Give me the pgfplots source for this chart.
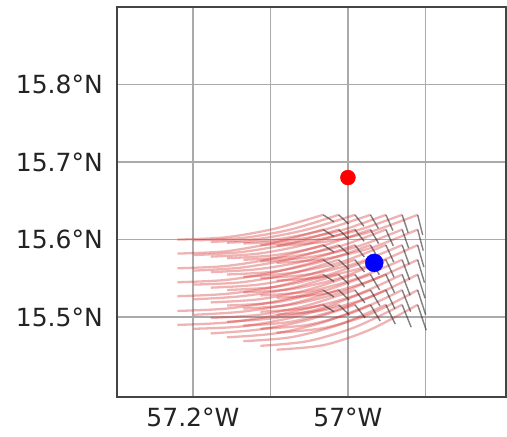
\documentclass[border=0pt]{standalone}
\usepackage{fontspec}
\setmainfont{DejaVu Sans}
\usepackage{pgfplots}
\pgfplotsset{compat=1.18}

\definecolor{trajred}{RGB}{214,45,45}
\definecolor{segdark}{RGB}{45,45,45}
\definecolor{gridgray}{RGB}{170,170,170}
\definecolor{labelgray}{RGB}{35,35,35}

\begin{document}
\begin{tikzpicture}[x=1pt,y=1pt]
\useasboundingbox (-117,-40) rectangle (390,397);
\begin{axis}[
  at={(0,0)}, anchor=south west,
  scale only axis, width=389pt, height=390pt,
  xmin=-57.298, xmax=-56.796,
  ymin=15.397, ymax=15.9,
  xtick={-57.2,-57.1,-57.0,-56.9},
  xticklabels={57.2°W,,57°W,},
  ytick={15.5,15.6,15.7,15.8},
  yticklabels={15.5°N,15.6°N,15.7°N,15.8°N},
  major tick length=0pt,
  grid=major,
  major grid style={gridgray, line width=1.5pt},
  axis line style={labelgray!85, line width=1.8pt},
  tick label style={font=\fontsize{25}{30}\selectfont, text=labelgray},
  xticklabel style={anchor=north, inner sep=0pt, yshift=-11pt},
  yticklabel style={anchor=east, inner sep=0pt, xshift=-14pt},
  clip=true,
  traj/.style={trajred, opacity=0.36, line width=2.3pt, smooth, no markers},
]

% backward trajectories, row 0 (northernmost)
\addplot[traj] coordinates {(-57.032,15.632) (-57.095,15.614) (-57.157,15.603) (-57.220,15.600)};
\addplot[traj] coordinates {(-57.012,15.632) (-57.074,15.613) (-57.137,15.602) (-57.199,15.599)};
\addplot[traj] coordinates {(-56.991,15.632) (-57.053,15.613) (-57.115,15.601) (-57.177,15.597)};
\addplot[traj] coordinates {(-56.971,15.632) (-57.033,15.612) (-57.094,15.600) (-57.156,15.596)};
\addplot[traj] coordinates {(-56.951,15.632) (-57.012,15.611) (-57.074,15.599) (-57.135,15.595)};
\addplot[traj] coordinates {(-56.930,15.632) (-56.991,15.611) (-57.052,15.598) (-57.113,15.593)};
\addplot[traj] coordinates {(-56.910,15.632) (-56.971,15.610) (-57.031,15.597) (-57.092,15.592)};
% row 1
\addplot[traj] coordinates {(-57.032,15.613) (-57.095,15.596) (-57.157,15.585) (-57.220,15.582)};
\addplot[traj] coordinates {(-57.012,15.613) (-57.074,15.595) (-57.137,15.584) (-57.199,15.580)};
\addplot[traj] coordinates {(-56.991,15.613) (-57.053,15.594) (-57.115,15.582) (-57.177,15.578)};
\addplot[traj] coordinates {(-56.971,15.613) (-57.033,15.592) (-57.094,15.580) (-57.156,15.576)};
\addplot[traj] coordinates {(-56.951,15.613) (-57.012,15.591) (-57.074,15.578) (-57.135,15.574)};
\addplot[traj] coordinates {(-56.930,15.613) (-56.991,15.590) (-57.052,15.577) (-57.113,15.572)};
\addplot[traj] coordinates {(-56.910,15.613) (-56.971,15.589) (-57.031,15.575) (-57.092,15.570)};
% row 2
\addplot[traj] coordinates {(-57.032,15.593) (-57.095,15.576) (-57.157,15.566) (-57.220,15.563)};
\addplot[traj] coordinates {(-57.012,15.593) (-57.074,15.575) (-57.137,15.564) (-57.199,15.560)};
\addplot[traj] coordinates {(-56.991,15.593) (-57.053,15.573) (-57.115,15.562) (-57.177,15.558)};
\addplot[traj] coordinates {(-56.971,15.593) (-57.033,15.572) (-57.094,15.559) (-57.156,15.555)};
\addplot[traj] coordinates {(-56.951,15.593) (-57.012,15.570) (-57.074,15.557) (-57.135,15.552)};
\addplot[traj] coordinates {(-56.930,15.593) (-56.991,15.569) (-57.052,15.555) (-57.113,15.550)};
\addplot[traj] coordinates {(-56.910,15.593) (-56.971,15.567) (-57.031,15.552) (-57.092,15.547)};
% row 3
\addplot[traj] coordinates {(-57.032,15.574) (-57.095,15.558) (-57.157,15.548) (-57.220,15.545)};
\addplot[traj] coordinates {(-57.012,15.574) (-57.074,15.556) (-57.137,15.545) (-57.199,15.542)};
\addplot[traj] coordinates {(-56.991,15.574) (-57.053,15.554) (-57.115,15.542) (-57.177,15.538)};
\addplot[traj] coordinates {(-56.971,15.574) (-57.033,15.552) (-57.094,15.539) (-57.156,15.535)};
\addplot[traj] coordinates {(-56.951,15.574) (-57.012,15.550) (-57.074,15.536) (-57.135,15.532)};
\addplot[traj] coordinates {(-56.930,15.574) (-56.991,15.549) (-57.052,15.533) (-57.113,15.528)};
\addplot[traj] coordinates {(-56.910,15.574) (-56.971,15.547) (-57.031,15.530) (-57.092,15.525)};
% row 4
\addplot[traj] coordinates {(-57.032,15.555) (-57.095,15.539) (-57.157,15.530) (-57.220,15.527)};
\addplot[traj] coordinates {(-57.012,15.555) (-57.074,15.537) (-57.137,15.527) (-57.199,15.523)};
\addplot[traj] coordinates {(-56.991,15.555) (-57.053,15.535) (-57.115,15.523) (-57.177,15.519)};
\addplot[traj] coordinates {(-56.971,15.555) (-57.033,15.533) (-57.094,15.519) (-57.156,15.515)};
\addplot[traj] coordinates {(-56.951,15.555) (-57.012,15.531) (-57.074,15.516) (-57.135,15.511)};
\addplot[traj] coordinates {(-56.930,15.555) (-56.991,15.528) (-57.052,15.512) (-57.113,15.507)};
\addplot[traj] coordinates {(-56.910,15.555) (-56.971,15.526) (-57.031,15.509) (-57.092,15.503)};
% row 5
\addplot[traj] coordinates {(-57.032,15.535) (-57.095,15.520) (-57.157,15.511) (-57.220,15.508)};
\addplot[traj] coordinates {(-57.012,15.535) (-57.074,15.517) (-57.137,15.507) (-57.199,15.503)};
\addplot[traj] coordinates {(-56.991,15.535) (-57.053,15.515) (-57.115,15.503) (-57.177,15.499)};
\addplot[traj] coordinates {(-56.971,15.535) (-57.033,15.512) (-57.094,15.499) (-57.156,15.494)};
\addplot[traj] coordinates {(-56.951,15.535) (-57.012,15.510) (-57.074,15.494) (-57.135,15.489)};
\addplot[traj] coordinates {(-56.930,15.535) (-56.991,15.507) (-57.052,15.490) (-57.113,15.485)};
\addplot[traj] coordinates {(-56.910,15.535) (-56.971,15.504) (-57.031,15.486) (-57.092,15.480)};
% row 6 (southernmost)
\addplot[traj] coordinates {(-57.032,15.516) (-57.095,15.502) (-57.157,15.493) (-57.220,15.490)};
\addplot[traj] coordinates {(-57.012,15.516) (-57.074,15.499) (-57.137,15.488) (-57.199,15.485)};
\addplot[traj] coordinates {(-56.991,15.516) (-57.053,15.496) (-57.115,15.484) (-57.177,15.479)};
\addplot[traj] coordinates {(-56.971,15.516) (-57.033,15.493) (-57.094,15.479) (-57.156,15.474)};
\addplot[traj] coordinates {(-56.951,15.516) (-57.012,15.490) (-57.074,15.474) (-57.135,15.469)};
\addplot[traj] coordinates {(-56.930,15.516) (-56.991,15.487) (-57.052,15.469) (-57.113,15.463)};
\addplot[traj] coordinates {(-56.910,15.516) (-56.971,15.484) (-57.031,15.464) (-57.092,15.458)};

% forward drift segments from each release point
\addplot[segdark, opacity=0.6, line width=1.4pt, no markers, unbounded coords=jump] table {
x y
-57.032 15.632
-57.018 15.623
nan nan
-57.032 15.613
-57.018 15.604
nan nan
-57.032 15.593
-57.018 15.584
nan nan
-57.032 15.574
-57.018 15.565
nan nan
-57.032 15.555
-57.018 15.546
nan nan
-57.032 15.535
-57.018 15.526
nan nan
-57.032 15.516
-57.018 15.507
nan nan
-57.012 15.632
-56.9991 15.6202
nan nan
-57.012 15.613
-56.9990 15.6010
nan nan
-57.012 15.593
-56.9988 15.5808
nan nan
-57.012 15.574
-56.9987 15.5616
nan nan
-57.012 15.555
-56.9986 15.5424
nan nan
-57.012 15.535
-56.9985 15.5222
nan nan
-57.012 15.516
-56.9983 15.5030
nan nan
-56.991 15.632
-56.9794 15.6173
nan nan
-56.991 15.613
-56.9791 15.5979
nan nan
-56.991 15.593
-56.9789 15.5776
nan nan
-56.991 15.574
-56.9786 15.5582
nan nan
-56.991 15.555
-56.9784 15.5388
nan nan
-56.991 15.535
-56.9781 15.5184
nan nan
-56.991 15.516
-56.9778 15.4990
nan nan
-56.971 15.632
-56.9607 15.6145
nan nan
-56.971 15.613
-56.9603 15.5949
nan nan
-56.971 15.593
-56.9599 15.5743
nan nan
-56.971 15.574
-56.9595 15.5548
nan nan
-56.971 15.555
-56.9591 15.5352
nan nan
-56.971 15.535
-56.9587 15.5146
nan nan
-56.971 15.516
-56.9584 15.4950
nan nan
-56.951 15.632
-56.9420 15.6117
nan nan
-56.951 15.613
-56.9415 15.5919
nan nan
-56.951 15.593
-56.9409 15.5711
nan nan
-56.951 15.574
-56.9404 15.5513
nan nan
-56.951 15.555
-56.9399 15.5316
nan nan
-56.951 15.535
-56.9394 15.5108
nan nan
-56.951 15.516
-56.9389 15.4910
nan nan
-56.930 15.632
-56.9223 15.6088
nan nan
-56.930 15.613
-56.9216 15.5889
nan nan
-56.930 15.593
-56.9210 15.5679
nan nan
-56.930 15.574
-56.9203 15.5479
nan nan
-56.930 15.555
-56.9197 15.5280
nan nan
-56.930 15.535
-56.9190 15.5070
nan nan
-56.930 15.516
-56.9184 15.4870
nan nan
-56.910 15.632
-56.9035 15.6060
nan nan
-56.910 15.613
-56.9028 15.5858
nan nan
-56.910 15.593
-56.9020 15.5647
nan nan
-56.910 15.574
-56.9012 15.5445
nan nan
-56.910 15.555
-56.9005 15.5244
nan nan
-56.910 15.535
-56.8997 15.5032
nan nan
-56.910 15.516
-56.8989 15.4831
};

% reference positions
\addplot[red, only marks, mark=*, mark size=7.5pt, mark options={draw=red, fill=red}] coordinates {(-57.0,15.68)};
\addplot[blue, only marks, mark=*, mark size=9pt, mark options={draw=blue, fill=blue}] coordinates {(-56.966,15.570)};
\end{axis}
\end{tikzpicture}
\end{document}
